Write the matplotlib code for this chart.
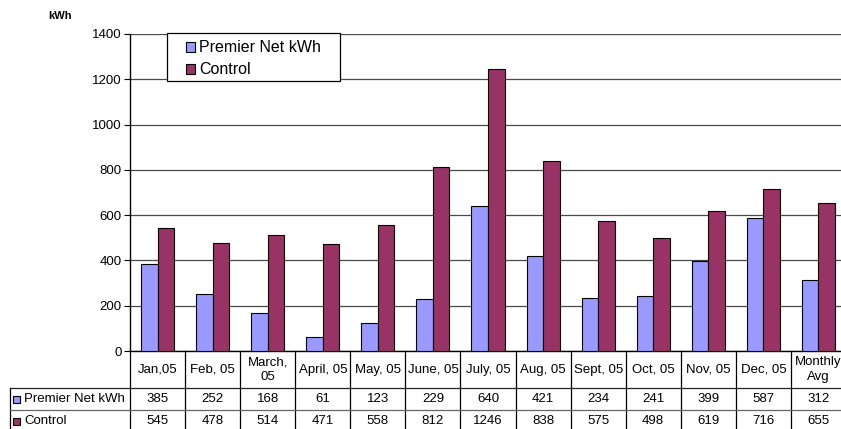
import matplotlib
matplotlib.use("Agg")
import matplotlib.pyplot as plt
from matplotlib.transforms import blended_transform_factory
from matplotlib.patches import Rectangle

plt.rcParams['font.family'] = ['Liberation Sans', 'DejaVu Sans']

categories = ["Jan,05", "Feb, 05", "March,\n05", "April, 05", "May, 05", "June, 05",
              "July, 05", "Aug, 05", "Sept, 05", "Oct, 05", "Nov, 05", "Dec, 05",
              "Monthly\nAvg"]
premier = [385, 252, 168, 61, 123, 229, 640, 421, 234, 241, 399, 587, 312]
control = [545, 478, 514, 471, 558, 812, 1246, 838, 575, 498, 619, 716, 655]
series_names = ["Premier Net kWh", "Control"]
colors = ["#9999FF", "#993366"]
yticks = [0, 200, 400, 600, 800, 1000, 1200, 1400]

W, H = 841, 429
fig = plt.figure(figsize=(W / 100, H / 100), dpi=100)

# plot area in pixels (left, right, top, bottom)
L, R, T, B = 130, 846, 34, 351
ax = fig.add_axes([L / W, 1 - B / H, (R - L) / W, (B - T) / H])
pw, ph = R - L, B - T

def axx(px):
    return (px - L) / pw

def ay(py):
    return -(py - B) / ph

n = len(categories)
x = list(range(n))
bw = 0.30
ax.bar([i - bw / 2 for i in x], premier, width=bw, color=colors[0],
       edgecolor="black", linewidth=0.8, zorder=3)
ax.bar([i + bw / 2 for i in x], control, width=bw, color=colors[1],
       edgecolor="black", linewidth=0.8, zorder=3)

ax.set_xlim(-0.5, n - 0.5)
ax.set_ylim(0, 1400)
ax.set_yticks(yticks)
ax.set_yticklabels([str(v) for v in yticks], fontsize=9.5)
ax.yaxis.grid(True, color="#4a4a4a", linewidth=0.9, zorder=0)
ax.set_axisbelow(True)
ax.set_xticks([])
for s in ["top", "right"]:
    ax.spines[s].set_visible(False)
ax.spines["left"].set_color("black")
ax.spines["left"].set_linewidth(1.0)
ax.spines["bottom"].set_color("black")
ax.spines["bottom"].set_linewidth(1.0)
ax.tick_params(axis="y", direction="out", length=4, width=0.8, pad=2)

fig.text(48 / W, 1 - 16 / H, "kWh", fontsize=8, fontweight="bold", va="center", ha="left")

# legend box
ax.add_patch(Rectangle((axx(167), ay(81)), axx(340) - axx(167), ay(33) - ay(81),
                       transform=ax.transAxes, facecolor="white", edgecolor="black",
                       linewidth=0.9, zorder=5, clip_on=False))
for k, (name, py) in enumerate(zip(series_names, [47, 69])):
    ax.add_patch(Rectangle((axx(186), ay(py + 4.5)), 9 / pw, 9 / ph,
                           transform=ax.transAxes, facecolor=colors[k],
                           edgecolor="black", linewidth=0.8, zorder=6))
    ax.text(axx(199), ay(py), name, transform=ax.transAxes, ha="left",
            va="center", fontsize=11.5, zorder=6)

# data table under the plot
bt = blended_transform_factory(ax.transData, ax.transAxes)
y_hdr_bot = ay(388)
y_row1_bot = ay(410)
y_row2_bot = ay(432)
x_left = axx(10)

# vertical lines at category boundaries
for i in range(n + 1):
    ax.plot([i - 0.5, i - 0.5], [0, y_row2_bot], transform=bt, color="black",
            linewidth=0.9, clip_on=False)
# left border of row-label column
ax.plot([x_left, x_left], [y_hdr_bot, y_row2_bot], transform=ax.transAxes,
        color="black", linewidth=0.9, clip_on=False)
# horizontal row separators
ax.plot([x_left, 1.0], [y_hdr_bot, y_hdr_bot], transform=ax.transAxes,
        color="#222222", linewidth=0.9, clip_on=False)
ax.plot([x_left, 1.0], [y_row1_bot, y_row1_bot], transform=ax.transAxes,
        color="#666666", linewidth=0.9, clip_on=False)

# header labels
for i, c in enumerate(categories):
    ax.text(i, (0 + y_hdr_bot) / 2, c, transform=bt, ha="center", va="center",
            fontsize=9.5, linespacing=1.25, clip_on=False)

# value rows
rows = [(premier, (y_hdr_bot + y_row1_bot) / 2), (control, (y_row1_bot + y_row2_bot) / 2)]
for vals, yc in rows:
    for i, v in enumerate(vals):
        ax.text(i, yc, str(v), transform=bt, ha="center", va="center",
                fontsize=9.5, clip_on=False)

# row labels with colour keys
key_w = 7 / pw
key_h = 7 / ph
for k, (name, yc) in enumerate(zip(series_names, [r[1] for r in rows])):
    ax.add_patch(Rectangle((axx(13), yc - key_h / 2), key_w, key_h,
                           transform=ax.transAxes, facecolor=colors[k],
                           edgecolor="black", linewidth=0.8, clip_on=False))
    ax.text(axx(24), yc, name, transform=ax.transAxes, ha="left",
            va="center", fontsize=9.5, clip_on=False)

fig.savefig("out.png", dpi=100)
